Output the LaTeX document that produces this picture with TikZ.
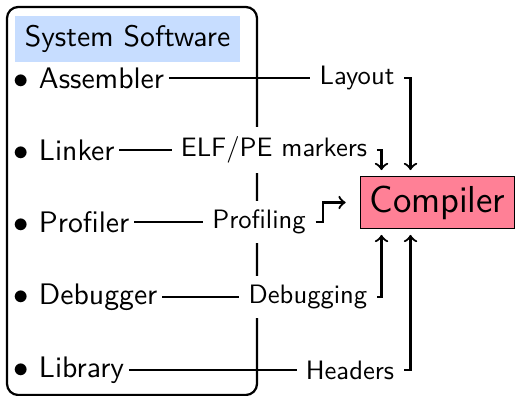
\documentclass[tikz,border=0pt]{standalone}
\usetikzlibrary{calc}
\definecolor{sysblue}{HTML}{C7DDFF}
\definecolor{comppink}{HTML}{FF8096}
\begin{document}
\begin{tikzpicture}[x=0.357pt,y=-0.357pt,
    font=\sffamily\fontsize{10.6}{12.7}\selectfont,
    item/.style={anchor=west,inner sep=1.5pt},
    tag/.style={fill=white,font=\sffamily\fontsize{9.5}{11.4}\selectfont},
    link/.style={thick},
    feed/.style={thick,->,shorten >=2pt}]
    \useasboundingbox (0,0) rectangle (516,396);

    % Outer frame
    \draw[thick,rounded corners=4pt] (7,7) rectangle (257,395);
    \node[fill=sysblue] (title) at (127.5,39) {System Software};

    % Items
    \node[item] (asm) at (9,78)  {$\bullet$ Assembler};
    \node[item] (lnk) at (9,150) {$\bullet$ Linker};
    \node[item] (prf) at (9,222) {$\bullet$ Profiler};
    \node[item] (dbg) at (9,297) {$\bullet$ Debugger};
    \node[item] (lib) at (9,370) {$\bullet$ Library};

    % Target
    \node[draw,fill=comppink,font=\sffamily\fontsize{13.4}{16}\selectfont]
        (comp) at (437.5,202.5) {Compiler};

    % Labels on the connectors
    \coordinate (layoutpos) at (357,78);
    \coordinate (elfpos) at (274,150);
    \coordinate (profpos) at (259,222);
    \coordinate (debugpos) at (308,297);
    \coordinate (headpos) at (350,370);

    \draw[link] (asm.east) -- (layoutpos);
    \draw[link] (lnk.east) -- (elfpos);
    \draw[link] (prf.east) -- (profpos);
    \draw[link] (dbg.east) -- (debugpos);
    \draw[link] (lib.east) -- (headpos);

    \node[tag] (layout) at (layoutpos) {Layout};
    \node[tag] (elf) at (elfpos) {ELF/PE markers};
    \node[tag] (prof) at (profpos) {Profiling};
    \node[tag] (debug) at (debugpos) {Debugging};
    \node[tag] (head) at (headpos) {Headers};

    % Arrows into the compiler
    \draw[feed] (layout.east) -| ($(comp.north)+(-27,0)$);
    \draw[feed] (elf.east) -| ($(comp.north)+(-56,0)$);
    \draw[feed,shorten >=5pt] (prof.east) -- ++(7,0) |- (comp.west);
    \draw[feed] (debug.east) -| ($(comp.south)+(-56,0)$);
    \draw[feed] (head.east) -| ($(comp.south)+(-27,0)$);
\end{tikzpicture}
\end{document}
